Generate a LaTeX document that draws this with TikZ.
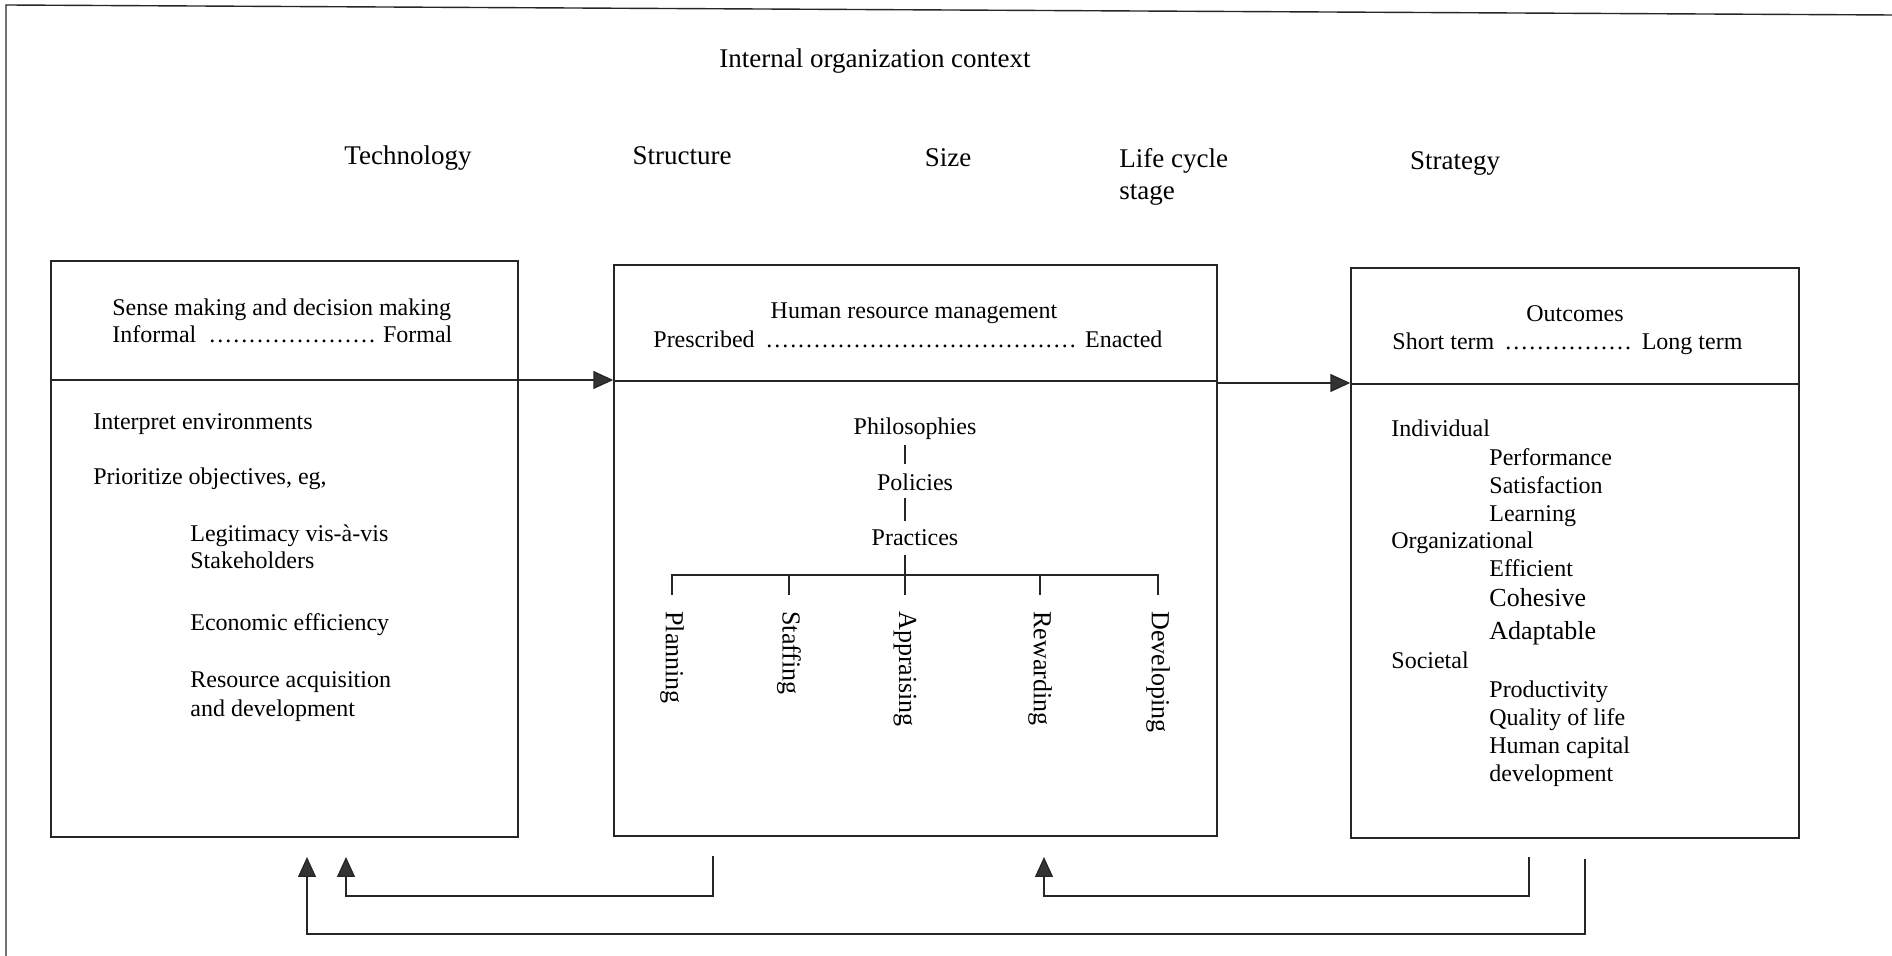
\documentclass[tikz,border=0pt]{standalone}
\usepackage{fontspec}
\setmainfont{Liberation Serif}
\usetikzlibrary{arrows.meta}

% a run of closely spaced dots that fills the remaining width
\newcommand{\dotrun}{\leaders\hbox to 0.333em{\hss.\hss}\hfill}

\begin{document}
\begin{tikzpicture}[x=0.5pt,y=-0.5pt,
  frame/.style={draw=black!85, line width=0.7pt},
  box/.style={draw=black!85, line width=0.7pt, inner sep=0pt},
  lbl/.style={inner sep=0pt, font=\fontsize{13.5}{16}\selectfont, text height=0.68em, text depth=0pt, yshift=-1.2pt},
  txt/.style={inner sep=0pt, font=\fontsize{12}{14}\selectfont, text height=0.68em, text depth=0pt, yshift=-1.4pt},
  txtl/.style={txt, anchor=west},
  vtxt/.style={inner sep=0pt, font=\fontsize{13}{15}\selectfont, rotate=-90, anchor=west},
  link/.style={draw=black!85, line width=0.7pt},
  flow/.style={link, -{Triangle[length=10pt,width=9pt,fill=black!80]}},
]
\useasboundingbox (0,0) rectangle (1892,956);

% outer frame (open on the right and at the bottom)
\coordinate (fbl) at (6,956);
\coordinate (ftl) at (6,5);
\coordinate (ftr) at (1892,15);
\draw[frame] (fbl) -- (ftl) -- (ftr);

% context labels
\node[lbl] (ctx) at (875,58) {Internal organization context};
\node[lbl] (tech) at (408,155) {Technology};
\node[lbl] (struct) at (682,155) {Structure};
\node[lbl] (size) at (948,157) {Size};
\node[lbl, anchor=west] (life) at (1119,158) {Life cycle};
\node[lbl, anchor=west] (stage) at (1119,190) {stage};
\node[lbl] (strat) at (1455,160) {Strategy};

% the three boxes
\node[box, minimum width=233.5pt, minimum height=288pt] (sense) at (284.5,549) {};
\node[box, minimum width=301.5pt, minimum height=285.5pt] (hrm) at (915.5,550.5) {};
\node[box, minimum width=224pt, minimum height=285pt] (out) at (1575,553) {};

% header dividers
\coordinate (dvs) at (0,380);
\coordinate (dvh) at (0,381);
\coordinate (dvo) at (0,384);
\coordinate (fw1) at (0,380);
\coordinate (fw2) at (0,383);
\draw[link] (sense.west |- dvs) -- (sense.east |- dvs);
\draw[link] (hrm.west |- dvh) -- (hrm.east |- dvh);
\draw[link] (out.west |- dvo) -- (out.east |- dvo);

% forward arrows
\draw[flow] (sense.east |- fw1) -- (hrm.west |- fw1);
\draw[flow] (hrm.east |- fw2) -- (out.west |- fw2);

% left box: sense making
\node[txtl] (sm) at (112,306) {Sense making and decision making};
\node[txtl] (smr) at (112,333) {\makebox[170pt]{Informal \dotrun\ Formal}};
\node[txtl] (ie) at (93,420) {Interpret environments};
\node[txtl] (po) at (93,475) {Prioritize objectives, eg,};
\node[txtl] (lg) at (190,532) {Legitimacy vis-à-vis};
\node[txtl] (sh) at (190,559) {Stakeholders};
\node[txtl] (ee) at (190,621) {Economic efficiency};
\node[txtl] (ra) at (190,678) {Resource acquisition};
\node[txtl] (ad) at (190,707) {and development};

% middle box: human resource management
\node[txt] (hr) at (914,309) {Human resource management};
\node[txtl] (hrr) at (653,338) {\makebox[254.5pt]{Prescribed \dotrun\ Enacted}};
\node[txt] (phil) at (915,425) {Philosophies};
\node[txt] (pol) at (915,481) {Policies};
\node[txt] (prac) at (915,536) {Practices};
\node[vtxt] (plan) at (672,611) {Planning};
\node[vtxt] (staff) at (789,611) {Staffing};
\node[vtxt] (appr) at (905,611) {Appraising};
\node[vtxt] (rew) at (1040,611) {Rewarding};
\node[vtxt] (dev) at (1158,611) {Developing};

\coordinate (treex) at (905,0);
\coordinate (bar) at (0,575);
\draw[link] ([yshift=-4.8pt]phil.south -| treex) -- ([yshift=6.3pt]pol.north -| treex);
\draw[link] ([yshift=-3.3pt]pol.south -| treex) -- ([yshift=5.3pt]prac.north -| treex);
\draw[link] ([yshift=-4.3pt]prac.south -| treex) -- ([yshift=8pt]appr.west);
\draw[link] ([yshift=8pt]plan.west) -- (plan.west |- bar) -- (dev.west |- bar) -- ([yshift=8pt]dev.west);
\draw[link] ([yshift=8pt]staff.west) -- (staff.west |- bar);
\draw[link] ([yshift=8pt]rew.west) -- (rew.west |- bar);

% right box: outcomes
\node[txt] (oc) at (1575,312) {Outcomes};
\node[txtl] (ocr) at (1392,340) {\makebox[175pt]{Short term \dotrun\ Long term}};
\node[txtl] (ind) at (1391,427) {Individual};
\node[txtl] (perf) at (1489,456) {Performance};
\node[txtl] (sat) at (1489,484) {Satisfaction};
\node[txtl] (lrn) at (1489,512) {Learning};
\node[txtl] (org) at (1391,539) {Organizational};
\node[txtl] (eff) at (1489,567) {Efficient};
\node[txtl, font=\fontsize{13}{15}\selectfont] (coh) at (1489,597) {Cohesive};
\node[txtl, font=\fontsize{13}{15}\selectfont] (adp) at (1489,630) {Adaptable};
\node[txtl] (soc) at (1391,659) {Societal};
\node[txtl] (prod) at (1489,688) {Productivity};
\node[txtl] (qol) at (1489,716) {Quality of life};
\node[txtl] (hc) at (1489,744) {Human capital};
\node[txtl] (hcd) at (1489,772) {development};

% feedback loops
\coordinate (fa0) at (713,856);
\coordinate (fa1) at (713,896);
\coordinate (fa2) at (346,896);
\coordinate (fat) at (346,857);
\draw[flow] (fa0) -- (fa1) -- (fa2) -- (fat);

\coordinate (fb0) at (1529,857);
\coordinate (fb1) at (1529,896);
\coordinate (fb2) at (1044,896);
\coordinate (fbt) at (1044,857);
\draw[flow] (fb0) -- (fb1) -- (fb2) -- (fbt);

\coordinate (fc0) at (1585,859);
\coordinate (fc1) at (1585,934);
\coordinate (fc2) at (307,934);
\coordinate (fct) at (307,857);
\draw[flow] (fc0) -- (fc1) -- (fc2) -- (fct);
\end{tikzpicture}
\end{document}
